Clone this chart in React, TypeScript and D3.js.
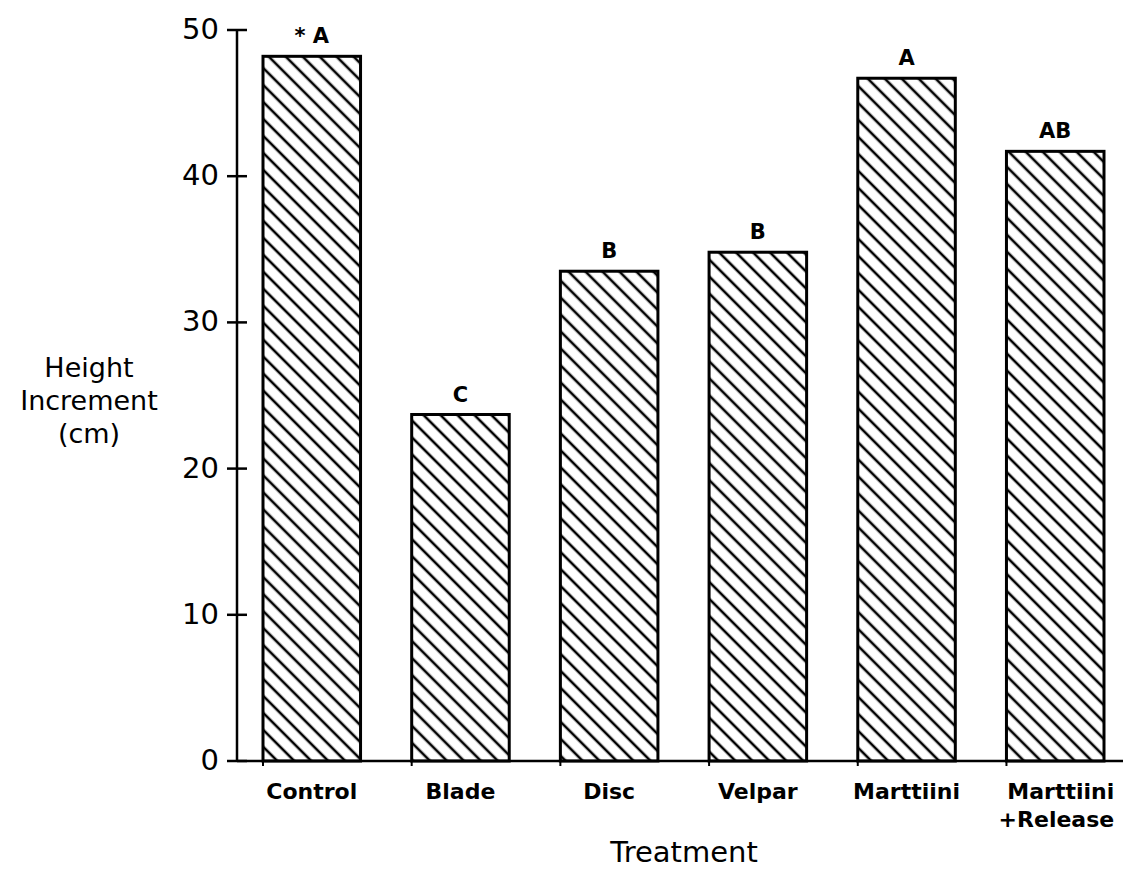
import React from "react";
import * as d3 from "d3";

// Mean height increment by site-preparation treatment
const treatments = ["Control", "Blade", "Disc", "Velpar", "Marttiini", "Marttiini\n+Release"];
const heightIncrement = [48.2, 23.7, 33.5, 34.8, 46.7, 41.7];
const groupLetters = ["* A", "C", "B", "B", "A", "AB"];
const yTicks = [0, 10, 20, 30, 40, 50];

const W = 1123;
const H = 872;
const axisX = 237;
const baseY = 761;
const FONT = "'DejaVu Sans', sans-serif";

export default function App() {
  const x = d3.scaleBand<string>().domain(treatments).range([263, 1104]).paddingInner(0.344).paddingOuter(0);
  const y = d3.scaleLinear().domain([0, 50]).range([baseY, 30]);
  const bw = x.bandwidth();

  return (
    <div style={{ position: "absolute", left: 0, top: 0 }}>
      <svg width={W} height={H} style={{ display: "block", background: "#fff" }}>
        <defs>
          <pattern id="hatch" patternUnits="userSpaceOnUse" width={12} height={12} patternTransform="rotate(-45)">
            <line x1={6} y1={-2} x2={6} y2={14} stroke="#000" strokeWidth={2.6} />
          </pattern>
        </defs>

        {/* bars */}
        {treatments.map((t, i) => {
          const x0 = x(t)!;
          const top = y(heightIncrement[i]);
          return (
            <g key={t}>
              <rect x={x0} y={top} width={bw} height={baseY - top} fill="url(#hatch)" stroke="#000" strokeWidth={3} />
              <text x={x0 + bw / 2} y={top - 13} textAnchor="middle" fontFamily={FONT} fontWeight="bold" fontSize={21}>
                {groupLetters[i]}
              </text>
              <line x1={x0} x2={x0} y1={baseY} y2={baseY + 5} stroke="#000" strokeWidth={2} />
            </g>
          );
        })}

        {/* y axis */}
        <line x1={axisX} x2={axisX} y1={y(50)} y2={baseY} stroke="#000" strokeWidth={2.5} />
        {yTicks.map((v) => (
          <g key={v}>
            <line x1={axisX - 10} x2={axisX + 10} y1={y(v)} y2={y(v)} stroke="#000" strokeWidth={2.5} />
            <text x={axisX - 18} y={y(v) + 9} textAnchor="end" fontFamily={FONT} fontSize={29}>
              {v}
            </text>
          </g>
        ))}

        {/* x axis */}
        <line x1={axisX} x2={W} y1={baseY} y2={baseY} stroke="#000" strokeWidth={2.5} />
        {treatments.map((t) => {
          const lines = t.split("\n");
          const multi = lines.length > 1;
          const cx = x(t)! + bw / 2;
          return (
            <text
              key={t}
              x={multi ? cx + 59 : cx}
              y={799}
              textAnchor={multi ? "end" : "middle"}
              fontFamily={FONT}
              fontWeight="bold"
              fontSize={22}
            >
              {lines.map((l, j) => (
                <tspan key={j} x={multi ? cx + 59 : cx} dy={j === 0 ? 0 : 28}>
                  {l}
                </tspan>
              ))}
            </text>
          );
        })}

        {/* axis titles */}
        <text x={89} y={377} textAnchor="middle" fontFamily={FONT} fontSize={27}>
          <tspan x={89} dy={0}>Height</tspan>
          <tspan x={89} dy={33}>Increment</tspan>
          <tspan x={89} dy={33}>(cm)</tspan>
        </text>
        <text x={684} y={862} textAnchor="middle" fontFamily={FONT} fontSize={29}>
          Treatment
        </text>
      </svg>
    </div>
  );
}
